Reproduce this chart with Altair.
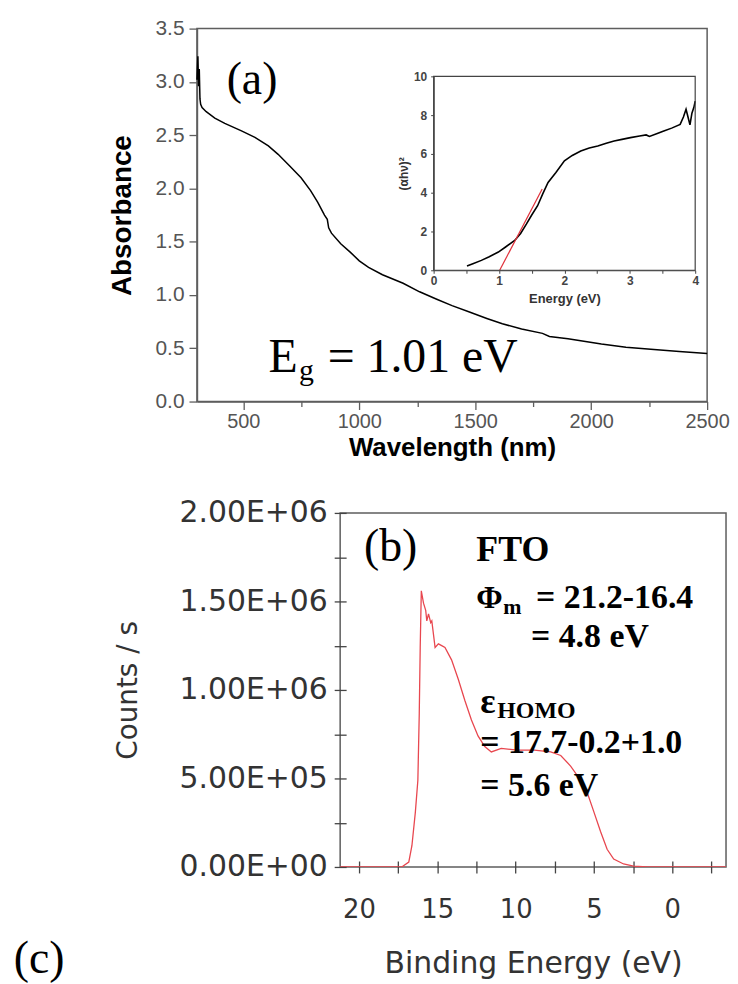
import altair as alt
import pandas as pd

# ---------------- data ----------------
# (a) absorbance spectrum
wavelength_nm = [300, 304, 307, 310, 313, 316, 322, 340, 377, 420,
                 492, 550, 608, 650, 700, 749, 790, 821, 850, 862,
                 868, 880, 920, 962, 1000, 1040, 1100, 1189, 1260, 1334,
                 1400, 1475, 1550, 1617, 1700, 1790, 1820, 1900, 2044, 2150,
                 2257, 2380, 2500]
absorbance = [3.02, 3.24, 2.96, 3.12, 2.84, 2.79, 2.76, 2.72, 2.66, 2.61,
              2.54, 2.48, 2.40, 2.32, 2.21, 2.10, 1.98, 1.87, 1.75, 1.71,
              1.63, 1.58, 1.48, 1.40, 1.32, 1.26, 1.19, 1.11, 1.03, 0.96,
              0.90, 0.84, 0.78, 0.73, 0.68, 0.64, 0.61, 0.59, 0.54, 0.51,
              0.49, 0.47, 0.45]

# inset: Tauc plot
energy_eV = [0.51, 0.6, 0.73, 0.85, 0.99, 1.1, 1.24, 1.33, 1.42, 1.5,
             1.59, 1.67, 1.75, 1.87, 2.0, 2.12, 2.25, 2.38, 2.51, 2.64,
             2.76, 2.88, 3.01, 3.15, 3.25, 3.3, 3.42, 3.52, 3.64, 3.77,
             3.82, 3.86, 3.89, 3.92, 3.95, 3.98, 4.0]
ahv_sq = [0.22, 0.34, 0.51, 0.7, 0.94, 1.2, 1.54, 1.9, 2.39, 2.85,
          3.33, 3.95, 4.53, 5.04, 5.64, 5.92, 6.15, 6.3, 6.41, 6.55,
          6.67, 6.75, 6.84, 6.92, 6.98, 6.9, 7.05, 7.18, 7.33, 7.52,
          7.9, 8.3, 7.9, 7.5, 8.1, 8.4, 8.72]
fit_eV = [1.01, 1.66]
fit_val = [0.0, 4.19]

# (b) UPS spectrum
binding_eV = [21.2, 17.72, 17.27, 16.82, 16.62, 16.4, 16.24, 16.15, 16.09, 16.02,
              15.88, 15.74, 15.67, 15.56, 15.42, 15.35, 15.14, 14.93, 14.72, 14.51,
              14.09, 13.66, 13.24, 12.82, 12.4, 11.97, 11.55, 10.92, 9.87, 8.81,
              7.76, 7.12, 6.49, 5.85, 5.43, 5.0, 4.58, 4.16, 3.74, 3.11,
              2.47, 1.6, -3.95]
counts_per_s = [0, 0, 0, 28000, 120000, 310000, 490000, 870000, 1240000, 1560000,
                1490000, 1450000, 1390000, 1430000, 1380000, 1390000, 1240000, 1260000, 1250000, 1240000,
                1170000, 1060000, 940000, 830000, 740000, 680000, 650000, 670000, 660000, 660000,
                650000, 630000, 570000, 490000, 420000, 310000, 200000, 100000, 45000, 17000,
                5000, 0, 0]

# tick values
wl_ticks = [500, 750, 1000, 1250, 1500, 1750, 2000, 2250, 2500]
abs_ticks = [0, 0.25, 0.5, 0.75, 1.0, 1.25, 1.5, 1.75, 2.0, 2.25, 2.5, 2.75, 3.0, 3.25, 3.5]
inset_x_ticks = [0, 0.5, 1, 1.5, 2, 2.5, 3, 3.5, 4]
inset_y_ticks = [0, 1, 2, 3, 4, 5, 6, 7, 8, 9, 10]
be_ticks = [20, 17.5, 15, 12.5, 10, 7.5, 5, 2.5, 0, -2.5]
cps_ticks = [0, 250000, 500000, 750000, 1000000, 1250000, 1500000, 1750000, 2000000]

# ---------------- styles ----------------
SANS = "Liberation Sans"
SERIF = "Liberation Serif"
DEJA = "DejaVu Sans"
GRAY = "#5e5e5e"

one = pd.DataFrame({"k": [0]})


def note(text, x, y, size, weight="normal", font=SERIF):
    return alt.Chart(one).mark_text(
        text=text, font=font, fontSize=size, fontWeight=weight,
        color="black", align="left", baseline="alphabetic"
    ).encode(x=alt.datum(x), y=alt.datum(y))


# ---------------- panel (a) ----------------
W1, H1 = 513, 375
abs_df = pd.DataFrame({"wl": wavelength_nm, "A": absorbance})

top_x = alt.X(
    "wl:Q", scale=alt.Scale(domain=[300, 2500], nice=False, zero=False),
    axis=alt.Axis(
        values=wl_ticks,
        labelExpr="datum.value % 500 === 0 ? format(datum.value, 'd') : ''",
        labelOverlap=False, labelFlush=False, labelFont=SANS, labelFontSize=20,
        labelColor="#555555", labelPadding=2,
        tickSize=alt.condition("datum.value % 500 === 0", alt.value(8), alt.value(5)),
        tickColor=GRAY, tickWidth=1.3, domainColor=GRAY, domainWidth=1.5,
        title="Wavelength (nm)", titleFont=SANS, titleFontSize=26,
        titleFontWeight="bold", titleColor="black", titleY=33, grid=False))
top_y = alt.Y(
    "A:Q", scale=alt.Scale(domain=[0, 3.5], nice=False, zero=False),
    axis=alt.Axis(
        values=abs_ticks,
        labelExpr="datum.value % 0.5 === 0 ? format(datum.value, '.1f') : ''",
        labelOverlap=False, labelFlush=False, labelFont=SANS, labelFontSize=21,
        labelColor="#555555", labelPadding=5,
        tickSize=alt.condition("datum.value % 0.5 === 0", alt.value(8), alt.value(5)),
        tickColor=GRAY, tickWidth=1.3, domainColor=GRAY, domainWidth=1.5,
        title="Absorbance", titleFont=SANS, titleFontSize=28,
        titleFontWeight="bold", titleColor="black", titleX=-75,
        titleBaseline="middle", grid=False))

top_curve = alt.Chart(abs_df).mark_line(color="black", strokeWidth=1.5).encode(x=top_x, y=top_y)

top_main = alt.layer(
    top_curve,
    note("(a)", 428, 2.89, 46),
    note("E", 608, 0.28, 48),
    note("g", 740, 0.205, 30),
    note("= 1.01 eV", 864, 0.28, 48),
)

inset_df = pd.DataFrame({"E": energy_eV, "v": ahv_sq})
fit_df = pd.DataFrame({"E": fit_eV, "v": fit_val})

ix = alt.X(
    "E:Q", scale=alt.Scale(domain=[0, 4], range=[238, 501], nice=False, zero=False),
    axis=alt.Axis(
        orient="bottom", offset=-132, values=inset_x_ticks,
        labelExpr="datum.value % 1 === 0 ? format(datum.value, 'd') : ''",
        labelFont=SANS, labelFontSize=12, labelFontWeight="bold", labelColor="#444444",
        labelPadding=2, labelOverlap=False, labelFlush=False,
        tickSize=3, tickColor="#444444", domainColor="#444444", domainWidth=1.2,
        title="Energy (eV)", titleFont=SANS, titleFontSize=13, titleFontWeight="bold",
        titleColor="#333333", titleY=22, grid=False))
iy = alt.Y(
    "v:Q", scale=alt.Scale(domain=[0, 10], range=[243, 48], nice=False, zero=False),
    axis=alt.Axis(
        orient="left", offset=-238, values=inset_y_ticks,
        labelExpr="datum.value % 2 === 0 ? format(datum.value, 'd') : ''",
        labelFont=SANS, labelFontSize=12, labelFontWeight="bold", labelColor="#444444",
        labelPadding=4, labelOverlap=False, labelFlush=False,
        tickSize=3, tickColor="#444444", domainColor="#444444", domainWidth=1.2,
        title="(αhν)²", titleFont=SANS, titleFontSize=12, titleFontWeight="bold",
        titleColor="#333333", titleX=-30, titleBaseline="middle", grid=False))

inset_curve = alt.Chart(inset_df).mark_line(color="black", strokeWidth=1.6).encode(x=ix, y=iy)
inset_fit = alt.Chart(fit_df).mark_line(color="#e0303a", strokeWidth=1.2).encode(x="E:Q", y="v:Q")
inset_box = alt.Chart(one).mark_rect(filled=False, stroke="#444444", strokeWidth=1.2).encode(
    x=alt.datum(0), x2=alt.datum(4), y=alt.datum(0), y2=alt.datum(10))

top_inset = alt.layer(inset_curve, inset_fit, inset_box)

top = alt.layer(top_main, top_inset).resolve_scale(
    x="independent", y="independent").properties(width=W1, height=H1)

# ---------------- panel (b) ----------------
W2, H2 = 388, 356
xps_df = pd.DataFrame({"be": binding_eV, "c": counts_per_s})

bx = alt.X(
    "be:Q", scale=alt.Scale(domain=[21.2, -3.43], nice=False, zero=False),
    axis=alt.Axis(
        values=be_ticks,
        labelExpr="datum.value % 5 === 0 ? format(datum.value, 'd') : ''",
        offset=-6, tickSize=12, domain=False, tickColor="#444444", tickWidth=1.3,
        labelFont=DEJA, labelFontSize=26, labelColor="#333333", labelPadding=24,
        labelOverlap=False, labelFlush=False,
        title="Binding Energy (eV)", titleFont=DEJA, titleFontSize=30,
        titleFontWeight="normal", titleColor="#333333", titleY=88, grid=False))
by = alt.Y(
    "c:Q", scale=alt.Scale(domain=[0, 2000000], nice=False, zero=False),
    axis=alt.Axis(
        values=cps_ticks,
        labelExpr=("datum.value % 500000 !== 0 ? '' : datum.value >= 1000000 ? "
                   "format(datum.value / 1000000, '.2f') + 'E+06' : datum.value > 0 ? "
                   "format(datum.value / 100000, '.2f') + 'E+05' : '0.00E+00'"),
        offset=-6, tickSize=12, domain=False, tickColor="#444444", tickWidth=1.3,
        labelFont=DEJA, labelFontSize=30, labelColor="#333333", labelPadding=7,
        labelOverlap=False, labelFlush=False,
        title="Counts / s", titleFont=DEJA, titleFontSize=28, titleFontWeight="normal",
        titleColor="#333333", titleX=-219, titleBaseline="middle", grid=False))

xps_curve = alt.Chart(xps_df).mark_line(color="#e8474f", strokeWidth=1.3, clip=True).encode(x=bx, y=by)

bottom = alt.layer(
    xps_curve,
    note("(b)", 19.68, 1730000, 46),
    note("FTO", 12.51, 1730000, 36, "bold"),
    note("Φ", 12.51, 1461000, 32, "bold"),
    note("m", 10.79, 1427000, 22, "bold"),
    note("= 21.2-16.4", 8.70, 1461000, 34, "bold"),
    note("= 4.8 eV", 9.02, 1242000, 34, "bold"),
    note("ε", 12.25, 871000, 36, "bold"),
    note("HOMO", 11.17, 843000, 24, "bold"),
    note("= 17.7-0.2+1.0", 12.25, 646000, 34, "bold"),
    note("= 5.6 eV", 12.25, 399000, 34, "bold"),
    note("(c)", 42.03, -601000, 46),
).properties(width=W2, height=H2)

spacer = alt.Chart(one).mark_text(text="").encode(
    x=alt.value(0), y=alt.value(0)
).properties(width=144, height=H2, view=alt.ViewBackground(stroke="transparent"))

chart = alt.vconcat(
    top,
    alt.hconcat(spacer, bottom, spacing=0, bounds="flush"),
    spacing=112, bounds="flush",
    padding={"left": 5, "top": 6, "right": 0, "bottom": 5},
    background="white",
).configure_view(stroke=GRAY, strokeWidth=1.5)

chart.save("out.html", embed_options={"renderer": "svg", "actions": False})
